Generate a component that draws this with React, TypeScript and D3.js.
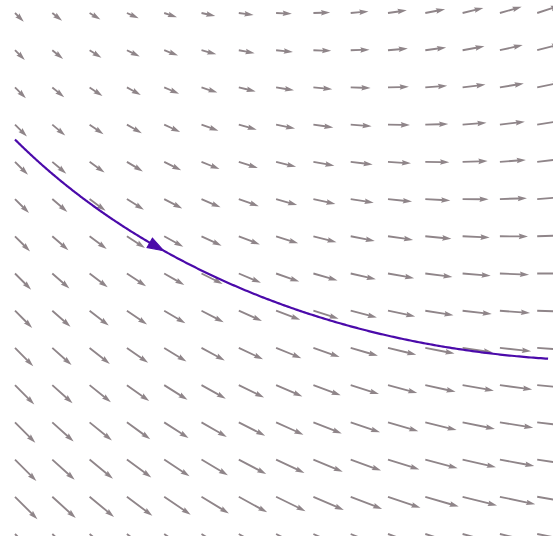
import React, { useMemo } from "react";
import * as d3 from "d3";

// Grid of sample points for the direction field (x and y in plot units).
const X_VALUES = [0, 1, 2, 3, 4, 5, 6, 7, 8, 9, 10, 11, 12, 13, 14];
const Y_VALUES = [0, 1, 2, 3, 4, 5, 6, 7, 8, 9, 10, 11, 12, 13, 14];

// Linear system:  x' = U0 + UX*x + UY*y,   y' = V0 + VX*x + VY*y
const U_COEFFS = [23.5, 1.0, -1.05];
const V_COEFFS = [-23.5, 1.15, 1.05];

// Initial point of the highlighted trajectory, its last x, and where its arrowhead sits (fraction of arc length).
const STREAM_START = [0, 10.6];
const STREAM_END_X = [14.26];
const STREAM_ARROW_AT = [0.315];

const W = 553;
const H = 536;
const FIELD_COLOR = "#8f8589";
const STREAM_COLOR = "#4b0aaa";

function field(x: number, y: number): [number, number] {
  const u = U_COEFFS[0] + U_COEFFS[1] * x + U_COEFFS[2] * y;
  const v = V_COEFFS[0] + V_COEFFS[1] * x + V_COEFFS[2] * y;
  return [u, v];
}

// Quiver-style arrow polygon (tail at origin, pointing along +x).
function quiverPath(len: number, w: number): string {
  const hw = w / 2;
  const hh = 1.5 * w;
  const hl = 5 * w;
  const ha = 4.5 * w;
  let s = 1;
  if (len < hl) s = len / hl;
  const pts: [number, number][] = [
    [0, -hw * s],
    [len - ha * s, -hw * s],
    [len - hl * s, -hh * s],
    [len, 0],
    [len - hl * s, hh * s],
    [len - ha * s, hw * s],
    [0, hw * s],
  ];
  return "M" + pts.map((p) => p[0].toFixed(2) + "," + p[1].toFixed(2)).join("L") + "Z";
}

export default function App() {
  const xScale = d3.scaleLinear().domain([0, 14]).range([15, 537.2]);
  const yScale = d3.scaleLinear().domain([0, 14]).range([534, 13]);
  const pxPerUnit = 1; // arrow length in px per unit of field magnitude

  const arrows = useMemo(() => {
    const out: { x: number; y: number; dx: number; dy: number }[] = [];
    for (const yv of Y_VALUES) {
      for (const xv of X_VALUES) {
        const [u, v] = field(xv, yv);
        out.push({ x: xScale(xv), y: yScale(yv), dx: u * pxPerUnit, dy: -v * pxPerUnit });
      }
    }
    return out;
  }, []);

  const stream = useMemo(() => {
    // RK4 integration in plot units, stopping at the right end of the domain.
    const pts: [number, number][] = [];
    let x = STREAM_START[0];
    let y = STREAM_START[1];
    const xMax = STREAM_END_X[0];
    const h = 0.002;
    pts.push([x, y]);
    for (let i = 0; i < 100000 && x < xMax; i++) {
      const k1 = field(x, y);
      const k2 = field(x + (h / 2) * k1[0], y + (h / 2) * k1[1]);
      const k3 = field(x + (h / 2) * k2[0], y + (h / 2) * k2[1]);
      const k4 = field(x + h * k3[0], y + h * k3[1]);
      x += (h / 6) * (k1[0] + 2 * k2[0] + 2 * k3[0] + k4[0]);
      y += (h / 6) * (k1[1] + 2 * k2[1] + 2 * k3[1] + k4[1]);
      pts.push([x, y]);
    }
    return pts.map((p) => [xScale(p[0]), yScale(p[1])] as [number, number]);
  }, []);

  const line = d3.line()(stream) || "";

  // Arrowhead location along the trajectory.
  const cum: number[] = [0];
  for (let i = 1; i < stream.length; i++) {
    cum.push(cum[i - 1] + Math.hypot(stream[i][0] - stream[i - 1][0], stream[i][1] - stream[i - 1][1]));
  }
  const target = cum[cum.length - 1] * STREAM_ARROW_AT[0];
  let idx = d3.bisectLeft(cum, target);
  idx = Math.max(1, Math.min(stream.length - 1, idx));
  const tip = stream[idx];
  const prev = stream[Math.max(0, idx - 5)];
  const ang = Math.atan2(tip[1] - prev[1], tip[0] - prev[0]);
  const headLen = 16;
  const headHalf = 5.5;

  return (
    <svg
      width={W}
      height={H}
      style={{ position: "absolute", left: 0, top: 0, background: "#fff" }}
    >
      <g>
        {arrows.map((a, i) => {
          const len = Math.hypot(a.dx, a.dy);
          const deg = (Math.atan2(a.dy, a.dx) * 180) / Math.PI;
          return (
            <path
              key={i}
              d={quiverPath(len, 1.85)}
              transform={`translate(${a.x},${a.y}) rotate(${deg})`}
              fill={FIELD_COLOR}
              stroke="none"
            />
          );
        })}
      </g>
      <path d={line} fill="none" stroke={STREAM_COLOR} strokeWidth={2.2} />
      <path
        d={`M0,0L${-headLen},${-headHalf}L${-headLen},${headHalf}Z`}
        transform={`translate(${tip[0]},${tip[1]}) rotate(${(ang * 180) / Math.PI})`}
        fill={STREAM_COLOR}
        stroke={STREAM_COLOR}
        strokeWidth={1}
        strokeLinejoin="miter"
      />
    </svg>
  );
}
